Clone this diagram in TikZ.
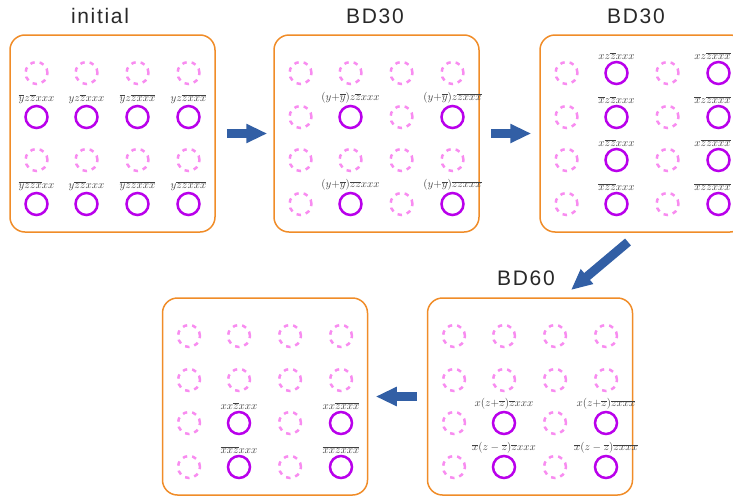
\documentclass[tikz,border=0pt]{standalone}
\usepackage{fontspec}
\usetikzlibrary{arrows.meta,positioning}
\newfontfamily\stagefont[LetterSpace=8]{Liberation Sans}
\definecolor{panelorange}{RGB}{240,140,40}
\definecolor{ringpurple}{RGB}{185,0,235}
\definecolor{ringpink}{RGB}{248,140,240}
\definecolor{arrowblue}{RGB}{50,95,165}
\definecolor{labelgray}{RGB}{65,65,65}
\definecolor{stagegray}{RGB}{40,40,40}
\newcommand{\nb}[1]{\overline{#1}}
\tikzset{
  panel/.style={draw=panelorange, line width=1.5pt, rounded corners=15pt,
    minimum width=205pt, minimum height=197pt, inner sep=0pt},
  ring/.style={circle, draw=ringpurple, line width=2.5pt, minimum size=22pt, inner sep=0pt},
  dring/.style={circle, draw=ringpink, line width=2.5pt, dash pattern=on 4.5pt off 5pt,
    minimum size=22pt, inner sep=0pt},
  lbl/.style={text=labelgray, font=\fontsize{10.5}{12}\selectfont, inner sep=1pt},
  stagename/.style={text=stagegray, font=\stagefont\fontsize{21}{24}\selectfont},
  bigarrow/.style={arrowblue, line width=9pt, -{Triangle[length=21pt,width=18pt]}}
}

\begin{document}
\begin{tikzpicture}[x=1pt, y=-1pt]
  \useasboundingbox (0,0) rectangle (733,498);

  % panels
  \node[panel] (init) at (112.5,133.5) {};
  \node[panel] (bdA) at (376.5,133.5) {};
  \node[panel] (bdB) at (642.5,133.5) {};
  \node[panel] (bdC) at (530,396.5) {};
  \node[panel] (final) at (265,396.5) {};

  % stage names
  \node[stagename] (t-init) at (100,16) {initial};
  \node[stagename] (t-bdA) at (375,16) {BD30};
  \node[stagename] (t-bdB) at (636,16) {BD30};
  \node[stagename] (t-bdC) at (526,278) {BD60};

  % initial
  \begin{scope}[shift={(init)}]
    \foreach \cx [count=\i] in {-76,-26,25,76}
      \foreach \cy [count=\j] in {-60.5,26.5}
        \node[dring] (init-d\j\i) at (\cx,\cy) {};
    \foreach \cx/\cy/\txt [count=\i] in {
        -76/-16.5/{$\nb y z\nb z xxx$}, -26/-16.5/{$yz\nb z xxx$},
        25/-16.5/{$\nb y z\nb z\nb x\nb x\nb x$}, 76/-16.5/{$yz\nb z\nb x\nb x\nb x$},
        -76/70.5/{$\nb y\nb z\nb z\nb x xx$}, -26/70.5/{$y\nb z\nb z xxx$},
        25/70.5/{$\nb y\nb z\nb z\nb x\nb x\nb x$}, 76/70.5/{$y\nb z\nb z\nb x\nb x\nb x$}} {
      \node[ring] (init-s\i) at (\cx,\cy) {};
      \node[lbl, above=0pt of init-s\i] (init-l\i) {\txt};
    }
  \end{scope}

  % first BD30
  \begin{scope}[shift={(bdA)}]
    \foreach \cx/\cy [count=\i] in {-76/-60.5,-26/-60.5,25/-60.5,76/-60.5,
        -76/-16.5,25/-16.5,-76/26.5,-26/26.5,25/26.5,76/26.5,-76/70.5,25/70.5}
      \node[dring] (bdA-d\i) at (\cx,\cy) {};
    \foreach \cx/\cy/\txt [count=\i] in {
        -26/-16.5/{$(y{+}\nb y)z\nb z xxx$}, 76/-16.5/{$(y{+}\nb y)z\nb z\nb x\nb x\nb x$},
        -26/70.5/{$(y{+}\nb y)\nb z\nb z xxx$}, 76/70.5/{$(y{+}\nb y)\nb z\nb z\nb x\nb x\nb x$}} {
      \node[ring] (bdA-s\i) at (\cx,\cy) {};
      \node[lbl, above=0pt of bdA-s\i] (bdA-l\i) {\txt};
    }
  \end{scope}

  % second BD30 (right column of labels sits a little to the left)
  \begin{scope}[shift={(bdB)}]
    \foreach \cx [count=\i] in {-76,25}
      \foreach \cy [count=\j] in {-60.5,-16.5,26.5,70.5}
        \node[dring] (bdB-d\j\i) at (\cx,\cy) {};
    \foreach \cx/\cy/\dx/\txt [count=\i] in {
        -26/-60.5/0/{$xz\nb z xxx$}, 76/-60.5/-6/{$xz\nb z\nb x\nb x\nb x$},
        -26/-16.5/0/{$\nb x z\nb z xxx$}, 76/-16.5/-6/{$\nb x z\nb z\nb x\nb x\nb x$},
        -26/26.5/0/{$x\nb z\nb z xxx$}, 76/26.5/-6/{$x\nb z\nb z\nb x\nb x\nb x$},
        -26/70.5/0/{$\nb x\nb z\nb z xxx$}, 76/70.5/-6/{$\nb x\nb z\nb z\nb x\nb x\nb x$}} {
      \node[ring] (bdB-s\i) at (\cx,\cy) {};
      \node[lbl, above=0pt of bdB-s\i, xshift=\dx pt] (bdB-l\i) {\txt};
    }
  \end{scope}

  % BD60
  \begin{scope}[shift={(bdC)}]
    \foreach \cx/\cy [count=\i] in {-76/-60.5,-26/-60.5,25/-60.5,76/-60.5,
        -76/-16.5,-26/-16.5,25/-16.5,76/-16.5,-76/26.5,25/26.5,-76/70.5,25/70.5}
      \node[dring] (bdC-d\i) at (\cx,\cy) {};
    \foreach \cx/\cy/\txt [count=\i] in {
        -26/26.5/{$x(z{+}\nb z)\nb z xxx$}, 76/26.5/{$x(z{+}\nb z)\nb z\nb x\nb x\nb x$},
        -26/70.5/{$\nb x(z-\nb z)\nb z xxx$}, 76/70.5/{$\nb x(z-\nb z)\nb z\nb x\nb x\nb x$}} {
      \node[ring] (bdC-s\i) at (\cx,\cy) {};
      \node[lbl, above=0pt of bdC-s\i] (bdC-l\i) {\txt};
    }
  \end{scope}

  % final
  \begin{scope}[shift={(final)}]
    \foreach \cx/\cy [count=\i] in {-76/-60.5,-26/-60.5,25/-60.5,76/-60.5,
        -76/-16.5,-26/-16.5,25/-16.5,76/-16.5,-76/26.5,25/26.5,-76/70.5,25/70.5}
      \node[dring] (final-d\i) at (\cx,\cy) {};
    \foreach \cx/\cy/\txt [count=\i] in {
        -26/26.5/{$xx\nb z xxx$}, 76/26.5/{$xx\nb z\nb x\nb x\nb x$},
        -26/70.5/{$\nb x\nb x\nb z xxx$}, 76/70.5/{$\nb x\nb x\nb z\nb x\nb x\nb x$}} {
      \node[ring] (final-s\i) at (\cx,\cy) {};
      \node[lbl, above=0pt of final-s\i] (final-l\i) {\txt};
    }
  \end{scope}

  % arrows between stages
  \draw[bigarrow, shorten <=11pt, shorten >=6pt] (init.east) -- (bdA.west);
  \draw[bigarrow, shorten <=11.5pt, shorten >=8pt] (bdA.east) -- (bdB.west);
  \coordinate (a3s) at (628,242);
  \coordinate (a3e) at (571,290);
  \draw[bigarrow] (a3s) -- (a3e);
  \draw[bigarrow, shorten <=10pt, shorten >=7.5pt] (bdC.west) -- (final.east);
\end{tikzpicture}
\end{document}
